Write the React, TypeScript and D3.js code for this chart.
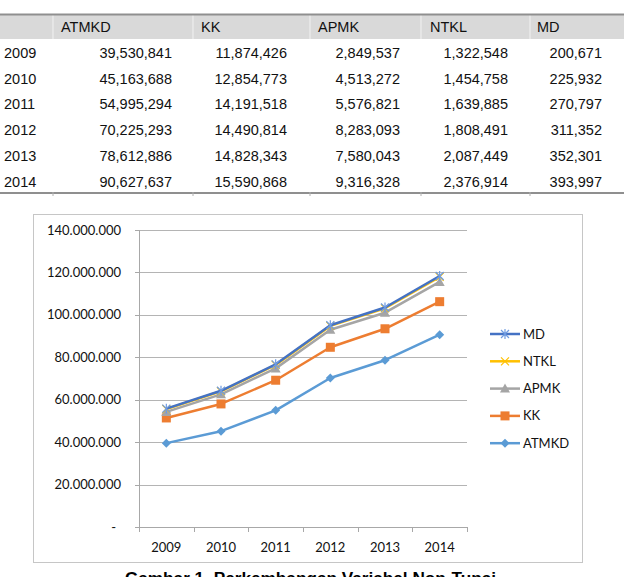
import React from "react";
import * as d3 from "d3";

const years = ["2009", "2010", "2011", "2012", "2013", "2014"];
const seriesNames = ["ATMKD", "KK", "APMK", "NTKL", "MD"];
const atmkd = [39530841, 45163688, 54995294, 70225293, 78612886, 90627637];
const kk = [11874426, 12854773, 14191518, 14490814, 14828343, 15590868];
const apmk = [2849537, 4513272, 5576821, 8283093, 7580043, 9316328];
const ntkl = [1322548, 1454758, 1639885, 1808491, 2087449, 2376914];
const md = [200671, 225932, 270797, 311352, 352301, 393997];
const yTicks = [0, 20000000, 40000000, 60000000, 80000000, 100000000, 120000000, 140000000];
const caption = "Gambar 1. Perkembangan Variabel Non-Tunai";

const seriesValues: Record<string, number[]> = { ATMKD: atmkd, KK: kk, APMK: apmk, NTKL: ntkl, MD: md };
const colors: Record<string, string> = {
  ATMKD: "#5b9bd5",
  KK: "#ed7d31",
  APMK: "#a5a5a5",
  NTKL: "#ffc000",
  MD: "#4472c4",
};

const tableFont = "'Liberation Sans', Arial, sans-serif";
const chartFont = "Lato, 'Open Sans', sans-serif";

function Marker({ name, x, y }: { name: string; x: number; y: number }) {
  const c = colors[name];
  if (name === "ATMKD") {
    const s = 4.5;
    return <path d={`M${x},${y - s}L${x + s},${y}L${x},${y + s}L${x - s},${y}Z`} fill={c} />;
  }
  if (name === "KK") {
    return <rect x={x - 4.5} y={y - 4.5} width={9} height={9} fill={c} />;
  }
  if (name === "APMK") {
    const s = 5;
    return <path d={`M${x},${y - s}L${x + s},${y + s * 0.8}L${x - s},${y + s * 0.8}Z`} fill={c} />;
  }
  if (name === "NTKL") {
    const s = 4;
    return (
      <path d={`M${x - s},${y - s}L${x + s},${y + s}M${x - s},${y + s}L${x + s},${y - s}`} stroke={c} strokeWidth={1.2} fill="none" />
    );
  }
  const s = 4;
  return (
    <path
      d={`M${x - s},${y - s}L${x + s},${y + s}M${x - s},${y + s}L${x + s},${y - s}M${x},${y - s - 1}L${x},${y + s + 1}`}
      stroke="#6f9be0"
      strokeWidth={1.2}
      fill="none"
    />
  );
}

export default function App() {
  // ---------- table layout ----------
  const headerLeft = [61, 201, 318, 430, 537];
  const numRight = [172, 287, 400, 508, 602];
  const separators = [53, 193, 310, 421, 530];
  const rowY0 = 53;
  const rowStep = 25.7;
  const fmtTable = d3.format(",");

  // ---------- chart ----------
  const x = d3.scaleBand<string>().domain(years).range([139, 467]).padding(0);
  const y = d3.scaleLinear().domain([0, 140000000]).range([527, 230]);

  const rows = years.map((yr, i) => {
    const r: Record<string, number | string> = { year: yr };
    seriesNames.forEach((n) => (r[n] = seriesValues[n][i]));
    return r;
  });
  const stack = d3.stack<Record<string, number | string>>().keys(seriesNames).value((d, k) => d[k] as number);
  const stacked = stack(rows);
  const line = d3
    .line<[number, number]>()
    .x((_, i) => (x(years[i]) as number) + x.bandwidth() / 2)
    .y((d) => y(d[1]));

  const fmtY = (v: number) => (v === 0 ? "-" : d3.format(",")(v).replace(/,/g, "."));
  const boundaries = [...years.map((yr) => x(yr) as number), 467];

  const legendOrder = ["MD", "NTKL", "APMK", "KK", "ATMKD"];

  return (
    <svg
      width={624}
      height={577}
      style={{ position: "absolute", left: 0, top: 0, background: "#fff" }}
    >
      {/* table */}
      <rect x={0} y={15} width={624} height={24} fill="#d9d9d9" />
      {separators.map((s, i) => (
        <line key={i} x1={s} x2={s} y1={15} y2={39} stroke="#f2f2f2" strokeWidth={1} />
      ))}
      <line x1={0} x2={624} y1={14.5} y2={14.5} stroke="#8f8f8f" strokeWidth={2} />
      <line x1={0} x2={624} y1={193} y2={193} stroke="#8f8f8f" strokeWidth={2} />
      {separators.slice(0, 5).map((s, i) => (
        <line key={i} x1={s} x2={s} y1={192} y2={196} stroke="#b0b0b0" strokeWidth={1} />
      ))}
      <g fontFamily={tableFont} fontSize={14.5} fill="#111">
        {seriesNames.map((n, i) => (
          <text key={n} x={headerLeft[i]} y={32}>
            {n}
          </text>
        ))}
        {years.map((yr, r) => (
          <g key={yr}>
            <text x={4} y={rowY0 + r * rowStep + 5}>
              {yr}
            </text>
            {seriesNames.map((n, c) => (
              <text key={n} x={numRight[c]} y={rowY0 + r * rowStep + 5} textAnchor="end">
                {fmtTable(seriesValues[n][r])}
              </text>
            ))}
          </g>
        ))}
      </g>

      {/* chart frame */}
      <rect x={33.5} y={214.5} width={549} height={348} fill="#fff" stroke="#c6c6c6" strokeWidth={1} />

      {/* gridlines */}
      {yTicks.slice(1).map((t) => (
        <line key={t} x1={139} x2={467} y1={Math.round(y(t)) + 0.5} y2={Math.round(y(t)) + 0.5} stroke="#b4b4b4" strokeWidth={1} />
      ))}
      {/* y axis */}
      <line x1={139.5} x2={139.5} y1={230} y2={527} stroke="#a8a8a8" strokeWidth={1} />
      {yTicks.map((t) => (
        <line key={t} x1={135} x2={139} y1={Math.round(y(t)) + 0.5} y2={Math.round(y(t)) + 0.5} stroke="#a8a8a8" strokeWidth={1} />
      ))}
      <g fontFamily={chartFont} fontSize={13} fill="#111">
        {yTicks.map((t) => (
          <text key={t} x={t === 0 ? 116 : 121} y={y(t) + 4.5} textAnchor="end">
            {fmtY(t)}
          </text>
        ))}
      </g>
      {/* x axis */}
      <line x1={139} x2={467} y1={527.5} y2={527.5} stroke="#a8a8a8" strokeWidth={1} />
      {boundaries.map((b, i) => (
        <line key={i} x1={Math.round(b) + 0.5} x2={Math.round(b) + 0.5} y1={527} y2={532} stroke="#a8a8a8" strokeWidth={1} />
      ))}
      <g fontFamily={chartFont} fontSize={13} fill="#111">
        {years.map((yr) => (
          <text key={yr} x={(x(yr) as number) + x.bandwidth() / 2} y={551.5} textAnchor="middle">
            {yr}
          </text>
        ))}
      </g>

      {/* series */}
      {stacked.map((s) => (
        <g key={s.key}>
          <path d={line(s.map((d) => [d[0], d[1]] as [number, number])) || ""} fill="none" stroke={colors[s.key]} strokeWidth={2.5} strokeLinejoin="round" />
          {s.map((d, i) => (
            <Marker key={i} name={s.key} x={(x(years[i]) as number) + x.bandwidth() / 2} y={y(d[1])} />
          ))}
        </g>
      ))}

      {/* legend */}
      {legendOrder.map((n, i) => {
        const ly = 334 + i * 27.3;
        return (
          <g key={n}>
            <line x1={490} x2={520} y1={ly} y2={ly} stroke={colors[n]} strokeWidth={2.5} />
            <Marker name={n} x={505} y={ly} />
            <text x={523} y={ly + 4.5} fontFamily={chartFont} fontSize={13} fill="#111">
              {n}
            </text>
          </g>
        );
      })}

      {/* caption */}
      <text x={310.5} y={584} textAnchor="middle" fontFamily={tableFont} fontWeight="bold" fontSize={17.2} fill="#000">
        {caption}
      </text>
    </svg>
  );
}
